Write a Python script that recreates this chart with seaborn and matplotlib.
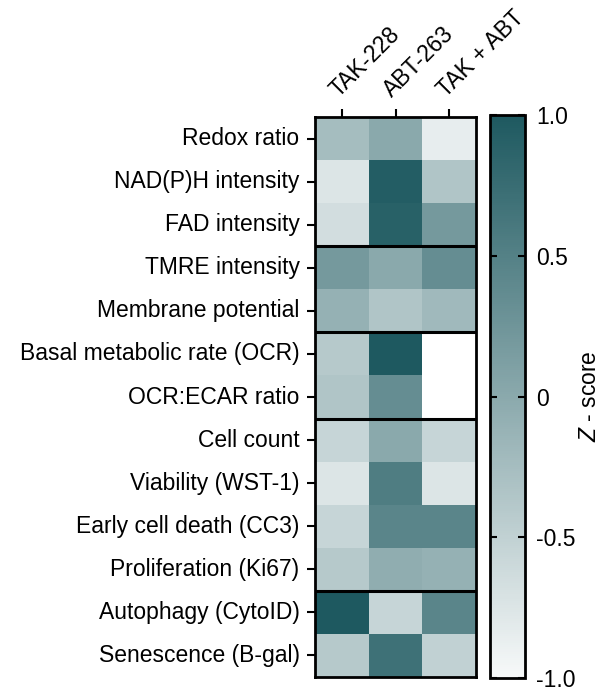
import numpy as np
import pandas as pd
import seaborn as sns
import matplotlib.pyplot as plt
from matplotlib.colors import LinearSegmentedColormap

# treatments (columns) and readouts (rows)
treatments = ['TAK-228', 'ABT-263', 'TAK + ABT']
readouts = ['Redox ratio', 'NAD(P)H intensity', 'FAD intensity',
            'TMRE intensity', 'Membrane potential',
            'Basal metabolic rate (OCR)', 'OCR:ECAR ratio',
            'Cell count', 'Viability (WST-1)', 'Early cell death (CC3)',
            'Proliferation (Ki67)',
            'Autophagy (CytoID)', 'Senescence (B-gal)']

tak = [-0.25, -0.75, -0.65, 0.2, -0.1, -0.4, -0.35, -0.55, -0.75, -0.55, -0.4, 1.0, -0.4]
abt = [0.0, 0.95, 0.9, 0.0, -0.35, 1.0, 0.35, 0.0, 0.55, 0.45, -0.05, -0.55, 0.7]
combo = [-0.85, -0.35, 0.2, 0.35, -0.2, np.nan, np.nan, -0.55, -0.75, 0.45, -0.1, 0.45, -0.5]

group_breaks = [3, 5, 7, 11]
cbar_ticks = [1.0, 0.5, 0.0, -0.5, -1.0]
cbar_ticklabels = ['1.0', '0.5', '0', '-0.5', '-1.0']

df = pd.DataFrame({treatments[0]: tak, treatments[1]: abt, treatments[2]: combo},
                  index=readouts)

plt.rcParams['font.family'] = ['Liberation Sans', 'DejaVu Sans']
plt.rcParams['mathtext.fontset'] = 'custom'
plt.rcParams['mathtext.it'] = 'Liberation Sans:italic'
plt.rcParams['mathtext.rm'] = 'Liberation Sans'

fs = 16.5
cmap = LinearSegmentedColormap.from_list('teal', ['#f7f9f9', '#1e5960'])

fig = plt.figure(figsize=(6.02, 6.87), dpi=100)
ax = fig.add_axes([0.523, 0.0146, 0.268, 0.815])
cax = fig.add_axes([0.814, 0.0131, 0.058, 0.8195])

sns.heatmap(df, ax=ax, cbar_ax=cax, cmap=cmap, vmin=-1, vmax=1,
            cbar_kws={'ticks': cbar_ticks})
ax.set_facecolor('white')

# group separators
for b in group_breaks:
    ax.axhline(b, color='black', lw=2.2)

for sp in ax.spines.values():
    sp.set_visible(True)
    sp.set_linewidth(2)
    sp.set_color('black')

ax.xaxis.tick_top()
ax.set_xticklabels(treatments, rotation=45, ha='left', va='bottom',
                   rotation_mode='anchor', fontsize=fs)
ax.set_yticklabels(readouts, rotation=0, fontsize=fs)
ax.tick_params(axis='both', length=6, width=1.5, color='black', pad=5)
ax.set_xlabel('')
ax.set_ylabel('')

cbar = ax.collections[0].colorbar
cbar.outline.set_visible(True)
cbar.outline.set_linewidth(2)
cbar.outline.set_edgecolor('black')
cbar.set_ticks(cbar_ticks)
cbar.set_ticklabels(cbar_ticklabels)
cax.tick_params(axis='y', direction='in', length=5, width=1.5, left=True,
                right=True, labelsize=fs, pad=8)
cax.text(2.85, 0.5, '$Z$ - score', transform=cax.transAxes, rotation=90,
         ha='center', va='center', fontsize=fs)

fig.savefig('out.png', dpi=100)
